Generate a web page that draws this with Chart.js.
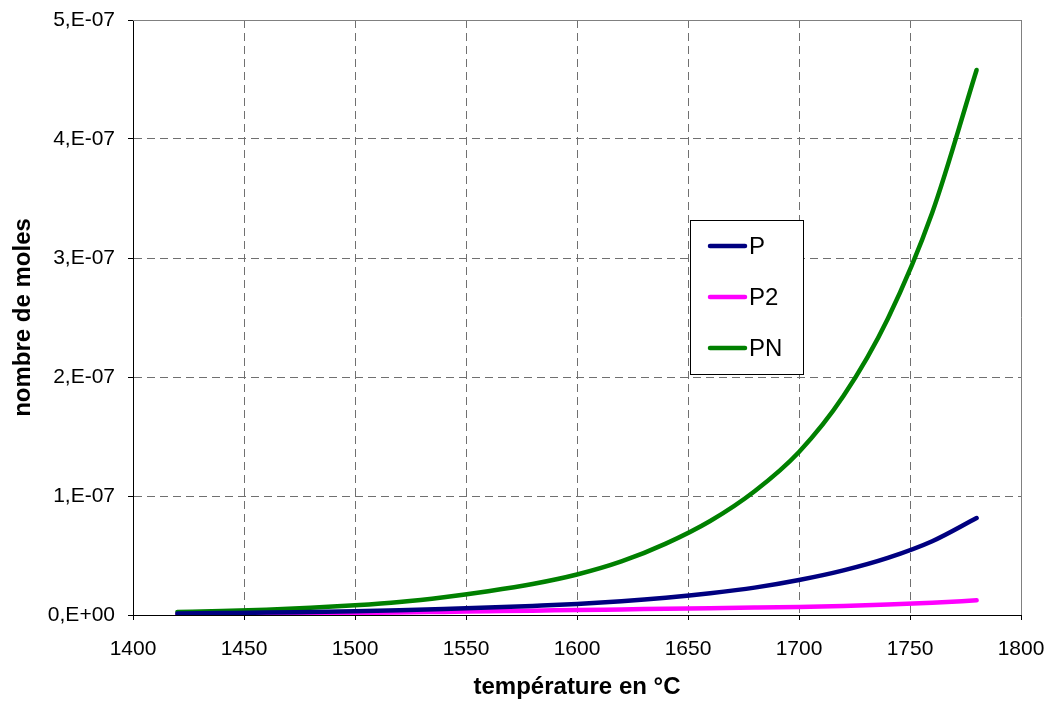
<!DOCTYPE html>
<html>
<head>
<meta charset="utf-8">
<script src="https://cdn.jsdelivr.net/npm/chart.js@4/dist/chart.umd.min.js"></script>
<style>
  body { margin: 0; background: #fff; }
  #wrap { width: 1050px; height: 704px; }
</style>
</head>
<body>
<div id="wrap"><canvas id="chart" width="1050" height="704"></canvas></div>
<script>
// temperatures (°C) and mole counts
const temperatures = [1420, 1440, 1460, 1480, 1500, 1520, 1540, 1560, 1580, 1600,
                      1620, 1640, 1660, 1680, 1700, 1720, 1740, 1760, 1780];
const molesP  = [1.2e-9, 1.6e-9, 2.0e-9, 2.6e-9, 3.2e-9, 4.0e-9, 5.0e-9, 6.2e-9, 7.6e-9, 9.2e-9,
                 1.15e-8, 1.45e-8, 1.83e-8, 2.3e-8, 2.94e-8, 3.75e-8, 4.8e-8, 6.2e-8, 8.15e-8];
const molesP2 = [0.4e-9, 0.6e-9, 0.9e-9, 1.2e-9, 1.7e-9, 2.1e-9, 2.6e-9, 3.1e-9, 3.6e-9, 4.2e-9,
                 4.7e-9, 5.2e-9, 5.7e-9, 6.2e-9, 6.8e-9, 7.6e-9, 8.8e-9, 1.03e-8, 1.23e-8];
const molesPN = [2.5e-9, 3.3e-9, 4.4e-9, 6.0e-9, 8.2e-9, 1.1e-8, 1.5e-8, 2.0e-8, 2.6e-8, 3.4e-8,
                 4.5e-8, 6.0e-8, 7.9e-8, 1.04e-7, 1.37e-7, 1.84e-7, 2.49e-7, 3.38e-7, 4.58e-7];

const seriesLabels = ['P', 'P2', 'PN'];
const seriesColors = ['#000080', '#FF00FF', '#008000'];
const yTickLabels = ['0,E+00', '1,E-07', '2,E-07', '3,E-07', '4,E-07', '5,E-07'];

const FONT = "'Liberation Sans', Arial, sans-serif";

const toPoints = (ys) => temperatures.map((t, i) => ({ x: t, y: ys[i] }));

// gray frame on top and right of the plot area
const frameLines = {
  id: 'frameLines',
  beforeDatasetsDraw(chart) {
    const { ctx, chartArea: a } = chart;
    ctx.save();
    ctx.strokeStyle = '#808080';
    ctx.lineWidth = 1;
    ctx.beginPath();
    ctx.moveTo(a.left, a.top + 0.5);
    ctx.lineTo(a.right + 0.5, a.top + 0.5);
    ctx.lineTo(a.right + 0.5, a.bottom);
    ctx.stroke();
    ctx.restore();
  }
};

// boxed legend sitting inside the plot
const boxLegend = {
  id: 'boxLegend',
  afterDraw(chart) {
    const { ctx } = chart;
    const x = 690, y = 220, w = 113, h = 154;
    ctx.save();
    ctx.fillStyle = '#fff';
    ctx.fillRect(x, y, w, h);
    ctx.strokeStyle = '#000';
    ctx.lineWidth = 1;
    ctx.strokeRect(x + 0.5, y + 0.5, w, h);
    ctx.font = '24px ' + FONT;
    ctx.textBaseline = 'middle';
    chart.data.datasets.forEach((ds, i) => {
      const ly = y + 26 + i * 51;
      ctx.strokeStyle = ds.borderColor;
      ctx.lineWidth = 4.5;
      ctx.lineCap = 'round';
      ctx.beginPath();
      ctx.moveTo(x + 20, ly);
      ctx.lineTo(x + 55, ly);
      ctx.stroke();
      ctx.fillStyle = '#000';
      ctx.fillText(ds.label, x + 59, ly + 1);
    });
    ctx.restore();
  }
};

const datasets = [molesP, molesP2, molesPN].map((vals, i) => ({
  label: seriesLabels[i],
  data: toPoints(vals),
  borderColor: seriesColors[i],
  backgroundColor: seriesColors[i],
  borderWidth: 4.5,
  borderCapStyle: 'round',
  pointRadius: 0,
  cubicInterpolationMode: 'monotone',
  showLine: true,
  fill: false
}));

new Chart(document.getElementById('chart'), {
  type: 'line',
  data: { datasets },
  options: {
    responsive: false,
    animation: false,
    layout: { padding: { top: 20, right: 29, left: 0, bottom: 0 } },
    plugins: {
      legend: { display: false },
      tooltip: { enabled: false }
    },
    scales: {
      x: {
        type: 'linear',
        min: 1400,
        max: 1800,
        afterFit: (s) => { s.height = 89; s.paddingLeft = 0; s.paddingRight = 0; },
        ticks: {
          stepSize: 50,
          color: '#000',
          font: { family: FONT, size: 21 },
          padding: 17,
          maxRotation: 0,
          callback: (v) => String(v)
        },
        grid: {
          color: '#707070',
          tickBorderDash: [],
          tickColor: '#000',
          tickLength: 5
        },
        border: { color: '#000', width: 1, dash: [8, 5] },
        title: {
          display: true,
          text: 'température en °C',
          color: '#000',
          font: { family: FONT, size: 24, weight: 'bold' },
          padding: { top: 2, bottom: 2 }
        }
      },
      y: {
        min: 0,
        max: 5e-7,
        afterFit: (s) => { s.width = 133; s.paddingTop = 0; s.paddingBottom = 0; },
        ticks: {
          stepSize: 1e-7,
          color: '#000',
          font: { family: FONT, size: 21 },
          padding: 13,
          callback: (v, i) => yTickLabels[i]
        },
        grid: {
          color: '#707070',
          tickBorderDash: [],
          tickColor: '#000',
          tickLength: 5
        },
        border: { color: '#000', width: 1, dash: [8, 5] },
        title: {
          display: true,
          text: 'nombre de moles',
          color: '#000',
          font: { family: FONT, size: 24, weight: 'bold' },
          padding: { top: 9, bottom: 9 }
        }
      }
    }
  },
  plugins: [frameLines, boxLegend]
});
</script>
</body>
</html>
